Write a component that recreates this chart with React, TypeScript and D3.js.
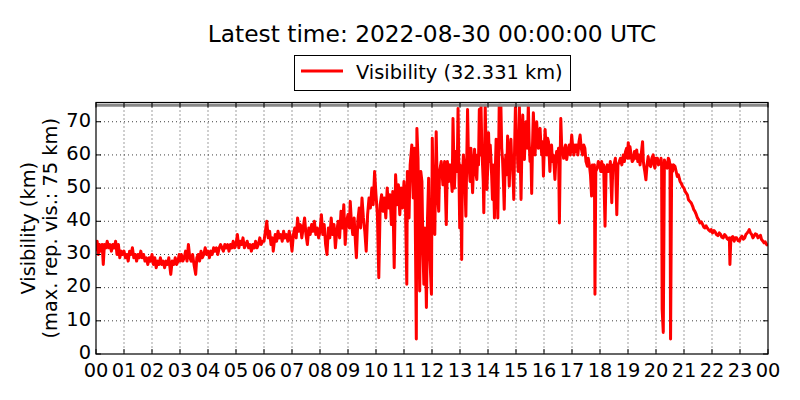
import * as d3 from "d3";

// [hour of day, visibility km]
const nightReadings: [number, number][] = [
  [0.0, 31], [0.04, 34], [0.08, 30], [0.12, 33], [0.17, 31], [0.22, 33], [0.26, 27], [0.3, 33], [0.35, 32], [0.4, 34],
  [0.45, 32], [0.5, 33], [0.55, 31], [0.6, 33], [0.65, 32], [0.7, 34], [0.75, 30], [0.8, 33], [0.85, 29], [0.9, 31], [0.95, 30],
  [1.0, 31], [1.05, 29], [1.1, 30], [1.15, 28], [1.2, 31], [1.25, 30], [1.3, 32], [1.35, 29], [1.4, 30], [1.45, 28],
  [1.5, 30], [1.55, 29], [1.6, 31], [1.65, 29], [1.7, 30], [1.75, 28], [1.8, 29], [1.85, 27], [1.9, 29], [1.95, 28],
  [2.0, 30], [2.05, 27], [2.1, 29], [2.15, 26], [2.2, 28], [2.25, 27], [2.3, 29], [2.35, 27], [2.4, 28], [2.45, 26],
  [2.5, 28], [2.55, 27], [2.6, 29], [2.67, 24], [2.72, 28], [2.78, 27], [2.83, 29], [2.88, 27], [2.93, 28], [2.97, 30],
  [3.0, 28], [3.05, 30], [3.1, 28], [3.15, 29], [3.2, 31], [3.25, 28], [3.3, 33], [3.35, 29], [3.4, 28], [3.45, 30],
  [3.5, 27], [3.56, 24], [3.6, 29], [3.65, 30], [3.7, 28], [3.75, 31], [3.8, 29], [3.85, 30], [3.9, 32], [3.95, 30],
  [4.0, 31], [4.05, 29], [4.1, 31], [4.15, 30], [4.2, 32], [4.25, 31], [4.3, 32], [4.35, 30], [4.4, 32], [4.45, 33],
  [4.5, 32], [4.55, 31], [4.6, 33], [4.65, 32], [4.7, 33], [4.75, 31], [4.8, 33], [4.85, 32], [4.9, 34], [4.95, 32],
  [5.0, 33], [5.05, 36], [5.1, 32], [5.15, 34], [5.2, 33], [5.25, 35], [5.3, 32], [5.35, 33], [5.4, 34], [5.45, 32],
  [5.5, 33], [5.55, 31], [5.6, 33], [5.65, 32], [5.7, 34], [5.75, 32], [5.8, 33], [5.85, 35], [5.9, 33], [5.95, 34],
  [6.0, 34], [6.05, 37], [6.1, 40], [6.15, 35], [6.2, 37], [6.25, 33], [6.3, 35], [6.33, 31], [6.4, 36], [6.45, 34],
  [6.5, 37], [6.55, 35], [6.6, 36], [6.65, 34], [6.7, 37], [6.75, 35], [6.8, 36], [6.85, 34], [6.9, 37], [6.95, 35],
  [7.0, 31], [7.05, 36], [7.1, 38], [7.15, 35], [7.2, 41], [7.25, 37], [7.3, 39], [7.35, 35], [7.4, 38], [7.45, 41],
  [7.5, 36], [7.55, 33], [7.6, 38], [7.65, 36], [7.7, 39], [7.75, 37], [7.8, 40], [7.85, 36], [7.9, 38], [7.95, 35],
  [8.0, 37], [8.05, 42], [8.1, 36], [8.15, 39], [8.2, 33], [8.25, 30], [8.3, 38], [8.35, 35], [8.4, 41], [8.45, 36],
  [8.5, 39], [8.55, 32], [8.6, 37], [8.65, 40], [8.7, 35], [8.75, 43], [8.8, 38], [8.85, 45], [8.9, 33], [8.95, 40],
];

const dayReadings: [number, number][] = [
  [9.0, 42], [9.05, 38], [9.08, 46], [9.12, 40], [9.17, 36], [9.22, 41], [9.27, 33], [9.3, 29], [9.35, 40], [9.4, 44],
  [9.45, 38], [9.5, 47], [9.55, 41], [9.6, 37], [9.65, 31], [9.7, 42], [9.75, 47], [9.8, 44], [9.85, 50], [9.9, 45], [9.95, 55],
  [10.0, 48], [10.05, 42], [10.1, 23], [10.15, 45], [10.2, 48], [10.25, 43], [10.3, 47], [10.35, 41], [10.4, 50], [10.45, 44],
  [10.5, 48], [10.55, 39], [10.6, 49], [10.65, 26], [10.7, 54], [10.75, 45], [10.8, 51], [10.85, 42], [10.9, 50], [10.95, 44],
  [11.0, 52], [11.05, 46], [11.1, 21], [11.12, 55], [11.18, 41], [11.22, 57], [11.28, 63], [11.33, 47], [11.38, 62], [11.44, 4.5],
  [11.46, 68], [11.5, 59], [11.53, 40], [11.56, 19], [11.6, 55], [11.64, 52], [11.68, 30], [11.71, 21], [11.75, 38], [11.8, 14],
  [11.84, 41], [11.88, 53], [11.92, 30], [11.98, 18], [12.01, 65], [12.05, 45], [12.1, 36], [12.15, 67], [12.19, 49], [12.24, 43],
  [12.27, 55], [12.33, 58], [12.39, 51], [12.45, 58], [12.51, 39], [12.55, 58], [12.6, 52], [12.65, 57], [12.72, 49], [12.75, 71],
  [12.8, 50], [12.85, 61], [12.9, 55], [12.93, 74], [12.99, 38], [13.0, 57], [13.03, 52], [13.06, 28.5], [13.08, 50], [13.1, 55],
  [13.12, 60], [13.15, 57], [13.18, 50], [13.21, 41.5], [13.24, 58], [13.27, 73.7], [13.3, 60], [13.33, 56], [13.36, 52], [13.39, 62],
  [13.42, 55], [13.45, 48.6], [13.48, 56], [13.52, 61.7], [13.56, 55], [13.6, 52.6], [13.63, 60], [13.66, 57], [13.69, 73.7], [13.72, 60],
  [13.75, 75], [13.78, 62], [13.8, 58], [13.83, 52], [13.85, 42.6], [13.88, 60], [13.9, 75], [13.93, 62], [13.96, 49.6], [13.99, 56],
  [14.02, 66.7], [14.05, 58], [14.08, 63], [14.1, 59.6], [14.13, 54], [14.16, 46.6], [14.19, 57], [14.23, 41], [14.26, 55], [14.29, 64.7],
  [14.32, 56], [14.35, 41], [14.38, 60], [14.4, 75], [14.43, 64], [14.46, 75], [14.49, 62], [14.52, 58.6], [14.55, 52], [14.58, 43.6],
  [14.61, 57], [14.64, 60], [14.67, 54], [14.7, 65.7], [14.73, 58], [14.76, 50.6], [14.79, 60], [14.82, 64.7], [14.85, 57], [14.88, 56],
  [14.9, 52], [14.92, 46.6], [14.95, 62], [14.98, 75], [15.01, 63], [15.04, 66.7], [15.06, 58], [15.08, 55], [15.1, 64], [15.12, 74.7],
  [15.15, 60], [15.18, 46.6], [15.21, 62], [15.24, 72], [15.27, 64], [15.3, 58.6], [15.33, 66], [15.36, 70], [15.4, 62], [15.44, 75],
  [15.47, 64], [15.5, 58], [15.53, 62], [15.56, 48.4], [15.59, 63], [15.62, 72.7], [15.65, 66], [15.68, 60], [15.71, 65], [15.74, 70],
  [15.77, 64], [15.8, 62], [15.83, 67], [15.86, 68], [15.89, 63], [15.92, 60], [15.95, 64], [15.98, 53.6], [16.01, 62], [16.04, 67.7],
  [16.07, 63], [16.1, 60], [16.13, 65], [16.16, 64], [16.19, 59], [16.21, 55], [16.24, 61], [16.27, 63], [16.3, 58], [16.33, 60],
  [16.36, 57], [16.39, 52.6], [16.42, 58], [16.45, 61], [16.48, 59], [16.52, 62], [16.55, 39.5], [16.58, 60], [16.6, 71], [16.63, 63],
  [16.66, 62], [16.7, 59], [16.74, 60], [16.77, 63], [16.81, 58.6], [16.85, 61], [16.9, 63], [16.94, 60], [16.99, 66], [17.03, 62],
  [17.07, 60], [17.11, 63], [17.14, 61], [17.17, 63], [17.21, 60], [17.25, 64], [17.29, 66], [17.33, 62], [17.38, 60], [17.42, 63],
  [17.46, 62], [17.5, 58], [17.55, 56.6], [17.58, 59], [17.62, 57], [17.66, 54], [17.7, 47.6], [17.73, 57], [17.76, 56], [17.8, 57],
  [17.82, 18], [17.85, 55], [17.9, 56], [17.94, 58],
];

const eveningReadings: [number, number][] = [
  [17.99, 57], [18.03, 55], [18.06, 58], [18.09, 55], [18.13, 57], [18.18, 38.5], [18.22, 56], [18.26, 57], [18.3, 55], [18.33, 55.6],
  [18.37, 58], [18.42, 45.6], [18.46, 57], [18.5, 57], [18.55, 59], [18.6, 42], [18.64, 57], [18.69, 58], [18.73, 59], [18.78, 57],
  [18.83, 60], [18.87, 58], [18.91, 61], [18.95, 62], [18.98, 59], [19.01, 63.7], [19.04, 59], [19.07, 62.5], [19.11, 60], [19.15, 58],
  [19.19, 58.5], [19.23, 61], [19.27, 59], [19.31, 61.5], [19.35, 58], [19.39, 60], [19.43, 57], [19.47, 60], [19.52, 64], [19.55, 58],
  [19.57, 56.5], [19.6, 55], [19.64, 52.5], [19.68, 57], [19.72, 59.5], [19.76, 57], [19.81, 56.5], [19.85, 59], [19.9, 60], [19.93, 57],
  [19.96, 56], [20.0, 59], [20.05, 59], [20.09, 57], [20.14, 57.5], [20.18, 59], [20.2, 57], [20.22, 13.5], [20.26, 6.5], [20.3, 58.5],
  [20.35, 57], [20.4, 56], [20.44, 59], [20.47, 58.5], [20.5, 57], [20.52, 4.5], [20.56, 57], [20.59, 55], [20.63, 57], [20.68, 56.5],
  [20.72, 55], [20.76, 53.5], [20.8, 54], [20.86, 52], [20.9, 51.5], [20.95, 50.5], [21.0, 50], [21.04, 49], [21.08, 48.5], [21.12, 48],
  [21.16, 46.5], [21.21, 46], [21.26, 45.5], [21.31, 44.5], [21.35, 43.5], [21.39, 43], [21.44, 42], [21.48, 41], [21.52, 40.5], [21.57, 39.5],
  [21.62, 39.8], [21.67, 39], [21.71, 38.2], [21.75, 38], [21.79, 38.6], [21.83, 38], [21.88, 37.4], [21.93, 37], [21.97, 37.5], [22.02, 36.5],
  [22.07, 37.2], [22.12, 36.7], [22.16, 36], [22.21, 35.7], [22.26, 36.5], [22.31, 36], [22.35, 35.2], [22.4, 35], [22.45, 36], [22.5, 35.5],
  [22.54, 34.8], [22.58, 34.5], [22.62, 35], [22.64, 27], [22.67, 34], [22.69, 35], [22.74, 35.4], [22.79, 34], [22.83, 35], [22.88, 35],
  [22.93, 34.2], [22.98, 34], [23.02, 35], [23.07, 35.5], [23.12, 34.6], [23.17, 35], [23.21, 36], [23.26, 36.5], [23.3, 37], [23.33, 37.5],
  [23.37, 36.6], [23.42, 36], [23.46, 35], [23.5, 35.5], [23.55, 36.2], [23.6, 36], [23.64, 35], [23.69, 35.3], [23.73, 35.8], [23.77, 34.5],
  [23.82, 34], [23.86, 33.5], [23.9, 33.8], [23.95, 33], [24.0, 32.7],
];

const readings = [...nightReadings, ...dayReadings, ...eveningReadings];

const hourTicks = d3.range(0, 25);
const kmTicks = [0, 10, 20, 30, 40, 50, 60, 70];
const maxReportedKm = 75;
const titleText = "Latest time: 2022-08-30 00:00:00 UTC";
const legendText = "Visibility (32.331 km)";
const yLabelLines = ["Visibility (km)", "(max. rep. vis.: 75 km)"];

const W = 800;
const H = 400;
const margin = { top: 102.5, right: 32, bottom: 46, left: 96 };
const font = "'DejaVu Sans', sans-serif";
const baseSize = 19.4;

export default function App() {
  const x = d3.scaleLinear().domain([0, 24]).range([margin.left, W - margin.right]);
  const y = d3.scaleLinear().domain([0, 75.8]).range([H - margin.bottom, margin.top]);
  const [x0, x1] = x.range();
  const [yb, yt] = y.range();

  const line = d3
    .line<[number, number]>()
    .x((d) => x(d[0]))
    .y((d) => y(d[1]));

  return (
    <svg
      width={W}
      height={H}
      style={{ position: "absolute", left: 0, top: 0, background: "#fff" }}
      fontFamily={font}
    >
      <defs>
        <clipPath id="plot">
          <rect x={x0} y={yt} width={x1 - x0} height={yb - yt} />
        </clipPath>
      </defs>

      {/* grid */}
      <g stroke="#000" strokeWidth={1} strokeDasharray="1,3" opacity={0.75}>
        {hourTicks.slice(1, -1).map((h) => (
          <line key={"gx" + h} x1={x(h)} x2={x(h)} y1={yt} y2={yb} />
        ))}
        {kmTicks.slice(1).map((v) => (
          <line key={"gy" + v} x1={x0} x2={x1} y1={y(v)} y2={y(v)} />
        ))}
      </g>

      <path
        d={line(readings) ?? ""}
        fill="none"
        stroke="#ff0000"
        strokeWidth={3}
        strokeLinejoin="round"
        clipPath="url(#plot)"
      />

      {/* max reported visibility */}
      <line
        x1={x0}
        x2={x1}
        y1={y(maxReportedKm)}
        y2={y(maxReportedKm)}
        stroke="#888"
        strokeWidth={3}
      />

      {/* ticks */}
      <g stroke="#000" strokeWidth={1}>
        {hourTicks.map((h) => (
          <g key={"t" + h}>
            <line x1={x(h)} x2={x(h)} y1={yb} y2={yb - 5} />
            <line x1={x(h)} x2={x(h)} y1={yt} y2={yt + 5} />
          </g>
        ))}
        {kmTicks.map((v) => (
          <g key={"k" + v}>
            <line x1={x0} x2={x0 + 5} y1={y(v)} y2={y(v)} />
            <line x1={x1} x2={x1 - 5} y1={y(v)} y2={y(v)} />
          </g>
        ))}
      </g>

      <rect x={x0} y={yt} width={x1 - x0} height={yb - yt} fill="none" stroke="#000" strokeWidth={1.2} />

      {/* tick labels */}
      <g fontSize={baseSize} fill="#000">
        {hourTicks.map((h) => (
          <text key={"lx" + h} x={x(h)} y={377} textAnchor="middle">
            {String(h % 24).padStart(2, "0")}
          </text>
        ))}
        {kmTicks.map((v) => (
          <text key={"ly" + v} x={x0 - 5} y={y(v) - 2} dy="0.35em" textAnchor="end">
            {v}
          </text>
        ))}
      </g>

      {/* y label */}
      <g fontSize={baseSize} textAnchor="middle">
        {yLabelLines.map((t, i) => (
          <text key={t} transform={`translate(${35 + i * 22},${(yt + yb) / 2}) rotate(-90)`}>
            {t}
          </text>
        ))}
      </g>

      <text x={(x0 + x1) / 2} y={42} textAnchor="middle" fontSize={23.3}>
        {titleText}
      </text>

      {/* legend */}
      <rect x={294.5} y={55.5} width={276} height={35} fill="#fff" stroke="#000" strokeWidth={1} />
      <line x1={301} x2={343} y1={71} y2={71} stroke="#ff0000" strokeWidth={3} />
      <text x={356} y={78.5} fontSize={baseSize}>
        {legendText}
      </text>
    </svg>
  );
}
